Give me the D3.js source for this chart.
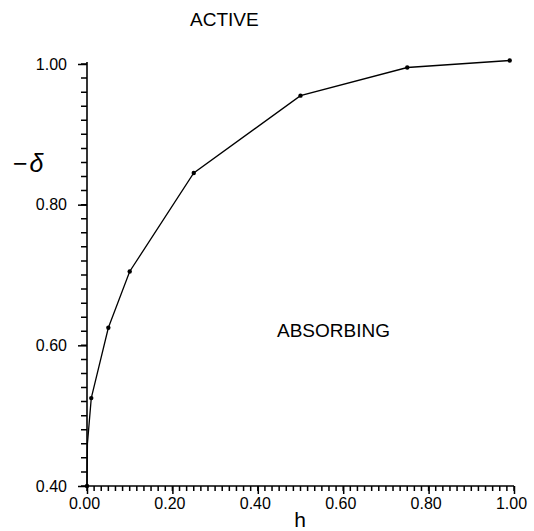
<!DOCTYPE html>
<html><head><meta charset="utf-8">
<script src="https://cdn.jsdelivr.net/npm/d3@7"></script>
<style>body{margin:0;background:#fff}svg{display:block}text{font-family:"Liberation Sans",Arial,sans-serif;fill:#000}</style>
</head><body><svg id="c" width="534" height="531"></svg>
<script>
const hValues = [0, 0.001, 0.01, 0.05, 0.10, 0.25, 0.50, 0.75, 0.99];
const deltaValues = [0.40, 0.46, 0.525, 0.625, 0.705, 0.845, 0.955, 0.995, 1.005];
const xMajorTicks = [0, 0.2, 0.4, 0.6, 0.8, 1.0];
const yMajorTicks = [0.4, 0.6, 0.8, 1.0];
const xMinorTicks = d3.range(0, 61).map(i => i / 60);
const yMinorTicks = d3.range(0, 31).map(i => 0.4 + i * 0.02);
const labels = {x: "h", active: "ACTIVE", absorbing: "ABSORBING"};

const svg = d3.select("#c");
const x = d3.scaleLinear().domain([0, 1]).range([87, 514]);
const y = d3.scaleLinear().domain([0.4, 1.0]).range([486, 64]);
const fmt = d3.format(".2f");

// minor ticks
const mp = d3.path();
xMinorTicks.forEach(d => { mp.moveTo(x(d), y(0.4)); mp.lineTo(x(d), y(0.4) + 5); });
yMinorTicks.forEach(d => { mp.moveTo(x(0) - 6, y(d)); mp.lineTo(x(0), y(d)); });
svg.append("path").attr("d", mp.toString()).attr("fill", "none")
  .attr("stroke", "#000").attr("stroke-width", 1.5);

// major ticks
const xa = svg.append("g").attr("transform", "translate(0,486)")
  .call(d3.axisBottom(x).tickValues(xMajorTicks).tickSize(8).tickPadding(4).tickFormat(fmt));
xa.select(".domain").remove();
xa.selectAll("text").attr("font-size", 16).attr("dx", -3).style("font-family", "Liberation Sans");
const ya = svg.append("g").attr("transform", "translate(87,0)")
  .call(d3.axisLeft(y).tickValues(yMajorTicks).tickSize(9).tickPadding(11).tickFormat(fmt));
ya.select(".domain").remove();
ya.selectAll("text").attr("font-size", 16).style("font-family", "Liberation Sans");
svg.selectAll(".tick line").attr("stroke", "#000").attr("stroke-width", 1.5);

// axis lines
svg.append("line").attr("x1", x(0)).attr("x2", x(1)).attr("y1", y(0.4)).attr("y2", y(0.4))
  .attr("stroke", "#000").attr("stroke-width", 1.6);
svg.append("line").attr("x1", x(0)).attr("x2", x(0)).attr("y1", y(0.4)).attr("y2", y(1.0) - 2)
  .attr("stroke", "#000").attr("stroke-width", 1.6);

const pts = hValues.map((h, i) => [h, deltaValues[i]]);
svg.append("path").datum(pts)
  .attr("d", d3.line().x(d => x(d[0])).y(d => y(d[1])))
  .attr("fill", "none").attr("stroke", "#000").attr("stroke-width", 1.3);
svg.selectAll("circle.p").data(pts.filter((d, i) => i !== 1)).join("circle")
  .attr("cx", d => x(d[0])).attr("cy", d => y(d[1])).attr("r", 2.2).attr("fill", "#000");

svg.append("text").attr("x", 190).attr("y", 26).attr("font-size", 19).text(labels.active);
svg.append("text").attr("x", 277).attr("y", 337).attr("font-size", 19).text(labels.absorbing);
svg.append("text").attr("x", 300).attr("y", 527).attr("text-anchor", "middle").attr("font-size", 21).text(labels.x);
const yl = svg.append("text").attr("x", 13).attr("y", 172).attr("font-size", 25);
yl.append("tspan").text("−");
yl.append("tspan").attr("font-style", "italic").attr("dx", 2).text("δ");
</script></body></html>
